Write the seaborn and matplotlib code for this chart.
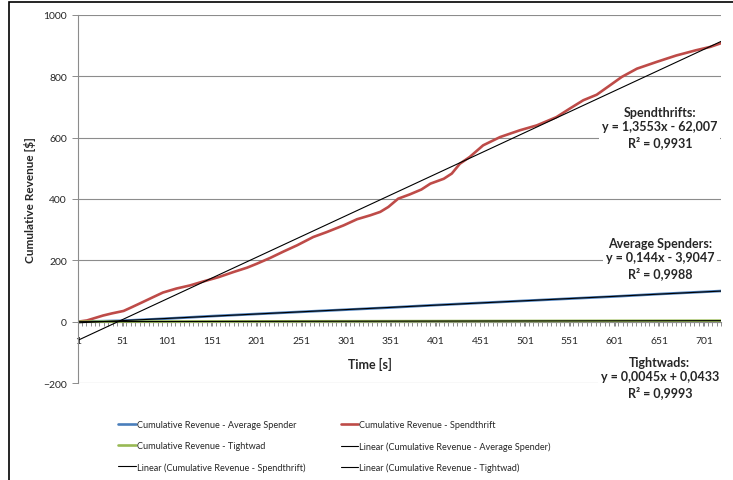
"""
Cumulative revenue over time per customer type, with linear trendlines
"""

import numpy as np
import pandas as pd
import matplotlib.pyplot as plt
from matplotlib.patches import Rectangle
from matplotlib.ticker import MultipleLocator, FixedLocator
import seaborn as sns

# Spendthrift series (time step, cumulative revenue)
spend_t = [1, 11, 20, 29, 39, 52, 61, 72, 85, 96, 111, 126, 141, 158, 175, 190,
           201, 216, 231, 246, 264, 279, 298, 313, 328, 339, 348, 359, 372, 385,
           395, 410, 419, 428, 439, 454, 473, 495, 514, 536, 551, 566, 581, 596,
           609, 626, 648, 670, 692, 708, 720]
spend_rev = [0, 4, 12, 20, 27, 35, 47, 62, 80, 95, 108, 118, 131, 145, 162, 176,
             189, 208, 229, 249, 276, 292, 314, 334, 347, 358, 374, 401, 415, 431,
             450, 466, 483, 515, 537, 575, 602, 624, 640, 667, 695, 722, 740, 771,
             798, 825, 847, 868, 885, 896, 908]

# Average spender series
avg_t = [1, 50, 100, 150, 200, 250, 300, 350, 400, 450, 500, 550, 600, 650, 720]
avg_rev = [0, 3, 10, 18, 25, 32, 39, 46, 54, 61, 68, 75, 82, 90, 100]

# Tightwad series
tight_t = [1, 100, 200, 300, 400, 500, 600, 720]
tight_rev = [0, 0.5, 1.0, 1.4, 1.9, 2.3, 2.8, 3.3]

# Trendline coefficients as printed on the chart
groups = ['Average Spenders', 'Spendthrifts', 'Tightwads']
slopes = [0.144, 1.3553, 0.0045]
intercepts = [-3.9047, -62.007, 0.0433]
r_squared = [0.9988, 0.9931, 0.9993]

x_ticks = list(range(1, 702, 50))
y_ticks = list(range(-200, 1001, 200))

sns.set_style('white')
plt.rcParams['font.family'] = ['Lato', 'DejaVu Sans']

fig = plt.figure(figsize=(7.33, 4.81), dpi=100)
ax = fig.add_axes([78 / 733, 1 - 384 / 481, 643 / 733, 368 / 481])

blue, red, green = '#4A7EBB', '#BE4B48', '#98B954'

sns.lineplot(x=avg_t, y=avg_rev, ax=ax, color=blue, linewidth=1.9,
             label='Cumulative Revenue - Average Spender')
sns.lineplot(x=spend_t, y=spend_rev, ax=ax, color=red, linewidth=1.9,
             label='Cumulative Revenue - Spendthrift')
sns.lineplot(x=tight_t, y=tight_rev, ax=ax, color=green, linewidth=1.9,
             label='Cumulative Revenue - Tightwad')

t_end = np.array([1, 720])
names = ['Average Spender', 'Spendthrift', 'Tightwad']
for name, m, b in zip(names, slopes, intercepts):
    sns.lineplot(x=t_end, y=m * t_end + b, ax=ax, color='black', linewidth=0.8,
                 label=f'Linear (Cumulative Revenue - {name})')

# axes styling
ax.set_xlim(1, 720)
ax.set_ylim(-200, 1000)
ax.yaxis.set_major_locator(FixedLocator(y_ticks))
ax.xaxis.set_major_locator(FixedLocator(x_ticks))
ax.xaxis.set_minor_locator(MultipleLocator(5))
for y in y_ticks:
    ax.axhline(y, color='#8C8C8C', linewidth=0.8, zorder=0)

for s in ['top', 'right']:
    ax.spines[s].set_visible(False)
ax.spines['bottom'].set_position(('data', 0))
ax.spines['bottom'].set_color('#8C8C8C')
ax.spines['left'].set_color('#8C8C8C')
ax.spines['bottom'].set_zorder(1)
ax.tick_params(axis='x', which='both', direction='out', length=3, width=0.7,
               color='#8C8C8C', bottom=True, labelsize=7.5, pad=7)
ax.tick_params(axis='y', which='major', direction='out', length=4, width=0.7,
               color='#8C8C8C', left=True, labelsize=7.5, pad=4)

ax.text(0.454, 0.054, 'Time [s]', transform=ax.transAxes, ha='center', va='center',
        fontsize=9, fontweight='bold')
fig.text(30 / 733, 1 - 200 / 481, 'Cumulative Revenue [$]', rotation=90,
         ha='center', va='center', fontsize=8.5, fontweight='bold')

# trendline labels
def fmt(v):
    return str(v).replace('.', ',')

label_pos = {'Spendthrifts': 0.696, 'Average Spenders': 0.340, 'Tightwads': 0.017}
for g, m, b, r in zip(groups, slopes, intercepts, r_squared):
    sign = '-' if b < 0 else '+'
    txt = f'{g}:\ny = {fmt(m)}x {sign} {fmt(abs(b))}\nR² = {fmt(r)}'
    ax.text(0.905, label_pos[g], txt, transform=ax.transAxes, ha='center',
            va='center', fontsize=9, fontweight='bold', linespacing=1.25,
            zorder=5, bbox=dict(facecolor='white', edgecolor='none', pad=2))

# legend, Excel order is row-wise
handles, labels = ax.get_legend_handles_labels()
order = [0, 2, 4, 1, 3, 5]
ax.legend_.remove()
fig.legend([handles[i] for i in order], [labels[i] for i in order],
           loc='upper left', bbox_to_anchor=(110 / 733, 1 - 413 / 481),
           ncol=2, frameon=False, fontsize=6.6, handlelength=1.9,
           handletextpad=0.1, columnspacing=3.9, labelspacing=1.3)

# chart border (only left and top edges are in view)
fig.add_artist(Rectangle((9 / 733, -0.2), 1.5, 1.2 - 3 / 481, transform=fig.transFigure,
                         fill=False, edgecolor='black', linewidth=1.2))

fig.savefig('out.png', dpi=100)
